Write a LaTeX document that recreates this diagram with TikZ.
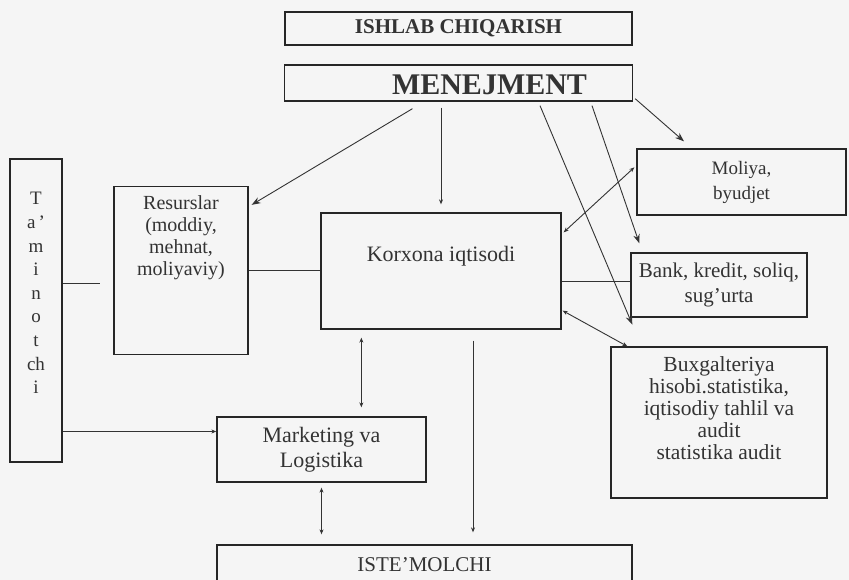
\documentclass[tikz,border=0pt]{standalone}
\usepackage{fontspec}
\setmainfont{Liberation Serif}
\usetikzlibrary{arrows.meta,positioning}

\tikzset{
  box/.style={draw=black!85,line width=1.3pt,inner sep=0pt},
  txt/.style={align=center,text=black!80,inner sep=0pt,font=\fontsize{21}{25}\selectfont},
  con/.style={draw=black!80,line width=0.9pt},
  lilarrow/.style={>={Stealth[length=5pt,width=4pt]}},
}

\begin{document}
\begin{tikzpicture}[x=1pt,y=-1pt,>={Stealth[length=9pt,width=6.5pt]}]
    \path[use as bounding box,fill=black!4](0,0) rectangle (849,580);
    \clip(0,0) rectangle (849,580);
    % boxes
    \node[box,txt,font=\bfseries\fontsize{21}{25}\selectfont,minimum width=347pt,minimum height=33pt] (ishlab) at (458.5,28.5) {ISHLAB CHIQARISH};
    \node[box,minimum width=348pt,minimum height=36pt] (men) at (458.5,83) {};
    \node[txt,font=\bfseries\fontsize{30}{32}\selectfont,below=10pt of men.north,xshift=31pt] (mentext) {MENEJMENT};
    \node[box,minimum width=52pt,minimum height=303pt] (tam) at (36,310.5) {};
    \node[txt,font=\fontsize{19}{23.6}\selectfont,below=34pt of tam.north] (tamtext) {T\\a\,’\\m\\i\\n\\o\\t\\ch\\i};
    \node[box,minimum width=134pt,minimum height=168pt] (res) at (181,270.5) {};
    \node[txt,font=\fontsize{20}{22}\selectfont,below=10pt of res.north] (restext) {Resurslar\\(moddiy,\\mehnat,\\moliyaviy)};
    \node[box,minimum width=240pt,minimum height=116pt] (kor) at (441,271) {};
    \node[txt,font=\fontsize{22}{25}\selectfont,below=34pt of kor.north] (kortext) {Korxona iqtisodi};
    \node[box,txt,font=\fontsize{19}{25}\selectfont,minimum width=209pt,minimum height=66pt] (mol) at (741.5,182) {Moliya,\\byudjet};
    \node[box,txt,minimum width=176pt,minimum height=64pt] (bank) at (719,285) {Bank, kredit, soliq,\\sug’urta};
    \node[box,minimum width=216pt,minimum height=151pt] (bux) at (719,422.5) {};
    \node[txt,font=\fontsize{21.5}{22}\selectfont,below=10pt of bux.north] (buxtext) {Buxgalteriya\\hisobi.statistika,\\iqtisodiy tahlil va\\audit\\statistika audit};
    \node[box,txt,font=\fontsize{22}{25}\selectfont,minimum width=209pt,minimum height=65pt] (mkt) at (321.5,449.5) {Marketing va\\Logistika};
    \node[box,minimum width=415pt,minimum height=60pt] (ist) at (424.5,575) {};
    \node[txt,below=13pt of ist.north] (isttext) {ISTE’MOLCHI};
    % connectors
    \coordinate (tamend) at (100,283);
    \draw[con,->]([xshift=-46pt,yshift=-7pt]men.south)--([xshift=3pt,yshift=-19pt]res.north east);
    \draw[con,->,lilarrow,shorten <=6pt,shorten >=8pt](kor.north |- men.south)--(kor.north);
    \draw[con,->]([xshift=81.5pt,yshift=-4pt]men.south)--([xshift=2pt,yshift=-7pt]bank.south west);
    \draw[con,->]([xshift=133.5pt,yshift=-4pt]men.south)--([xshift=9pt,yshift=9pt]bank.north west);
    \draw[con,->]([xshift=2pt,yshift=3pt]men.south east)--([xshift=-57.5pt,yshift=7pt]mol.north);
    \draw[con,<->,lilarrow]([xshift=2pt,yshift=-20pt]kor.north east)--([xshift=-2pt,yshift=-19pt]mol.north west);
    \draw[con]([yshift=-10pt]kor.east)--([yshift=-10pt]kor.east -| bank.west);
    \draw[con,<->,lilarrow]([xshift=1pt,yshift=19pt]kor.south east)--([xshift=17pt]bux.north west);
    \draw[con](tam.east |- tamend)--(tamend);
    \draw[con](res.east)--(res.east -| kor.west);
    \draw[con,->,lilarrow]([yshift=18pt]tam.east |- mkt.west)--([yshift=18pt]mkt.west);
    \draw[con,<->,lilarrow,shorten <=8pt,shorten >=9pt]([xshift=41pt]kor.south west)--([xshift=41pt]kor.south west |- mkt.north);
    \draw[con,->,lilarrow,shorten <=11pt,shorten >=12pt]([xshift=32pt]kor.south)--([xshift=32pt]kor.south |- ist.north);
    \draw[con,<->,lilarrow,shorten <=5pt,shorten >=10pt](mkt.south)--(mkt.south |- ist.north);
\end{tikzpicture}
\end{document}
